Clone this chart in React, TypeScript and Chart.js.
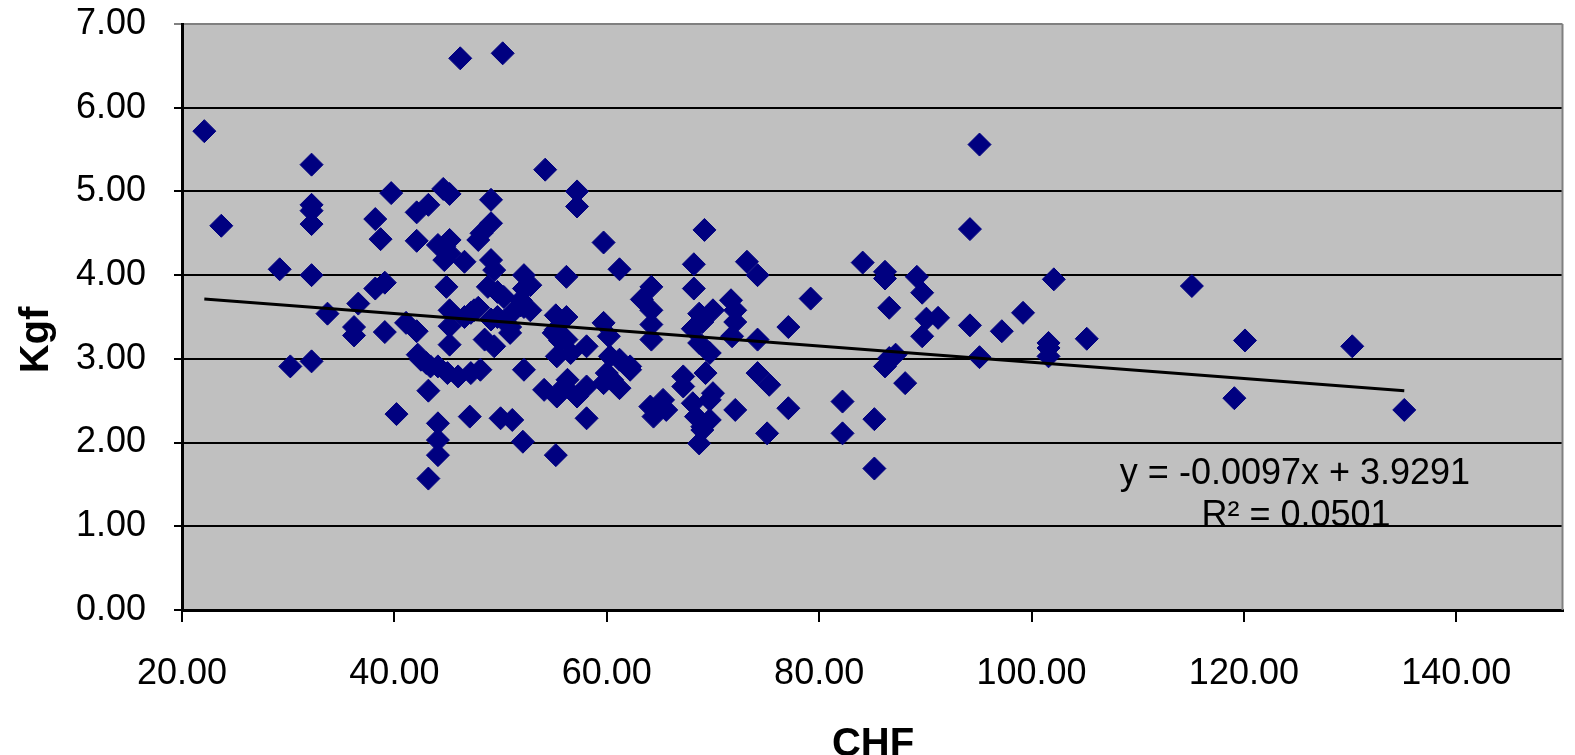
import React, { useEffect, useRef } from "react";
import { Chart, registerables } from "chart.js";

Chart.register(...registerables);

// CHF (x) and Kgf (y) values
const chf: number[] = [
  22.1, 23.7, 29.2, 30.2,
  32.2, 32.2, 32.2, 32.2, 32.2, 32.2,
  33.7, 36.2, 36.2, 36.6, 38.2, 38.2, 38.7, 39.1, 39.1, 39.7, 40.2, 41.1,
  42.1, 42.1, 42.1, 42.2, 42.5,
  43.2, 43.0, 43.2, 43.2, 43.4,
  44.1, 44.1, 44.1, 44.1, 44.1,
  44.6, 44.7, 44.7, 44.9,
  45.2, 45.2, 45.2, 45.2, 45.2, 45.2, 45.0,
  46.0, 46.2, 46.6, 46.6, 47.1, 47.2, 47.2, 47.5, 47.9, 47.9, 48.2, 48.1, 48.5, 48.8,
  49.1, 49.1, 49.1, 49.1, 49.4, 49.4, 49.7, 49.7,
  50.0, 50.2, 50.3, 50.9, 50.9, 51.0, 51.1, 51.9, 51.9,
  52.2, 52.2, 52.2, 52.2, 52.1, 52.8, 52.8,
  54.1, 54.2, 55.3,
  55.2, 55.2, 55.0, 55.3, 55.2, 55.6,
  56.2, 56.2, 56.2, 56.3, 56.6, 56.0,
  57.2, 57.2, 57.2, 58.1, 58.1, 58.1,
  59.7, 59.7, 59.7, 60.2, 60.3, 60.0, 60.5,
  61.2, 61.2, 61.2, 62.2, 62.2, 63.3,
  64.2, 64.2, 64.2, 64.2, 64.1, 64.4, 65.3, 65.6,
  67.2, 67.2, 68.2, 68.2, 68.1, 68.7, 69.0, 68.7, 68.1, 68.4, 68.7,
  69.2, 69.3, 69.0, 69.0, 69.7, 69.7, 69.7, 70.0, 70.0,
  71.7, 71.8, 72.1, 72.1, 72.1, 73.2,
  74.2, 74.2, 74.2, 75.3, 75.1, 77.1, 77.1, 79.2,
  82.2, 82.2, 84.1, 85.2, 85.2,
  86.2, 86.2, 86.6, 86.2, 86.6, 87.2, 88.1,
  89.2, 89.7, 89.7, 90.1, 91.2,
  94.2, 94.2, 95.1, 95.1, 97.2, 99.2,
  101.6, 101.6, 101.6, 102.1, 105.2,
  115.1, 119.1, 120.1, 130.2, 135.1,
];

const kgf: number[] = [
  5.72, 4.59, 4.07, 2.91,
  5.32, 4.84, 4.77, 4.61, 4.0, 2.97,
  3.54, 3.38, 3.28, 3.66, 4.67, 3.84, 4.43, 3.91, 3.32, 4.98, 2.34, 3.43,
  4.75, 4.41, 3.33, 3.05, 2.99,
  4.84, 2.95, 2.62, 1.57, 2.91,
  4.36, 2.91, 2.23, 2.03, 1.85,
  5.03, 4.34, 4.18, 3.86,
  4.97, 4.42, 4.26, 3.58, 3.39, 3.17, 2.83,
  2.79, 6.59, 4.16, 3.5, 2.31, 3.55, 2.83, 3.58, 4.42, 3.61, 4.5, 2.87, 3.23, 3.86,
  4.9, 4.62, 4.18, 3.47, 4.06, 3.15, 3.8, 3.5,
  2.29, 6.65, 3.74, 3.38, 3.31, 3.54, 2.27, 3.7, 3.64,
  4.0, 3.84, 3.62, 2.87, 2.01, 3.88, 3.58,
  2.63, 5.26, 2.55,
  3.52, 3.35, 3.31, 3.03, 1.85, 3.22,
  3.98, 3.5, 3.23, 2.75, 3.07, 2.67,
  5.0, 4.82, 2.55, 3.15, 2.67, 2.29,
  4.39, 3.43, 2.71, 3.27, 3.03, 2.83, 2.75,
  4.07, 2.99, 2.65, 2.87, 2.91, 3.71,
  3.86, 3.58, 3.41, 3.23, 2.43, 2.31, 2.51, 2.39,
  2.79, 2.67, 4.13, 3.84, 3.36, 3.54, 3.44, 3.19, 2.47, 2.31, 1.99,
  4.54, 2.83, 2.19, 2.15, 3.07, 2.51, 2.27, 3.58, 2.59,
  3.7, 3.27, 3.58, 3.44, 2.39, 4.16,
  4.0, 3.23, 2.83, 2.69, 2.11, 3.38, 2.41, 3.72,
  2.49, 2.11, 4.15, 2.28, 1.69,
  4.04, 3.96, 3.61, 2.91, 3.01, 3.05, 2.71,
  3.98, 3.79, 3.27, 3.48, 3.49,
  4.55, 3.4, 5.56, 3.02, 3.33, 3.55,
  3.19, 3.13, 3.03, 3.95, 3.24,
  3.87, 2.53, 3.22, 3.15, 2.39,
];

// Trend line end points (y = -0.0097x + 3.9291, as shown)
const trendX: number[] = [22.1, 135.1];
const trendY: number[] = [3.715, 2.619];

const yTicks: number[] = [0, 1, 2, 3, 4, 5, 6, 7];
const equationLabel = "y = -0.0097x + 3.9291";
const r2Label = "R² = 0.0501";
const xTitle = "CHF";
const yTitle = "Kgf";

const FONT = "'Liberation Sans', Arial, sans-serif";

const decorPlugin = {
  id: "decor",
  beforeDraw(chart: any) {
    const { ctx, chartArea } = chart;
    ctx.save();
    ctx.fillStyle = "#ffffff";
    ctx.fillRect(0, 0, chart.width, chart.height);
    ctx.fillStyle = "#C0C0C0";
    ctx.fillRect(chartArea.left, chartArea.top, chartArea.right - chartArea.left, chartArea.bottom - chartArea.top);
    ctx.restore();
  },
  afterDraw(chart: any) {
    const { ctx, chartArea } = chart;
    ctx.save();
    // right border of plot area
    ctx.strokeStyle = "#808080";
    ctx.lineWidth = 2;
    ctx.beginPath();
    ctx.moveTo(chartArea.right, chartArea.top);
    ctx.lineTo(chartArea.right, chartArea.bottom);
    ctx.stroke();
    // trend line label
    ctx.fillStyle = "#000";
    ctx.font = `36px ${FONT}`;
    ctx.textAlign = "center";
    ctx.textBaseline = "alphabetic";
    ctx.fillText(equationLabel, 1295, 484);
    ctx.fillText(r2Label, 1296, 526);
    // axis titles
    ctx.font = `bold 40px ${FONT}`;
    ctx.fillText(xTitle, 873, 756);
    ctx.translate(48, 340);
    ctx.rotate(-Math.PI / 2);
    ctx.fillText(yTitle, 0, 0);
    ctx.restore();
  },
};

export default function App() {
  const ref = useRef<HTMLCanvasElement | null>(null);
  useEffect(() => {
    document.body.style.margin = "0";
    if (!ref.current) return;
    const points = chf.map((x, i) => ({ x, y: kgf[i] }));
    const trend = trendX.map((x, i) => ({ x, y: trendY[i] }));
    const chart = new Chart(ref.current, {
      type: "scatter",
      data: {
        datasets: [
          {
            type: "line",
            label: "trend",
            data: trend,
            borderColor: "#000",
            borderWidth: 3,
            pointRadius: 0,
            showLine: true,
            fill: false,
            order: 0,
          } as any,
          {
            label: "Kgf",
            data: points,
            pointStyle: "rectRot",
            pointRadius: 11.5,
            pointBorderWidth: 1,
            backgroundColor: "#000080",
            borderColor: "#000080",
            order: 1,
          } as any,
        ],
      },
      options: {
        responsive: false,
        animation: false,
        layout: { padding: { top: 24, right: 1, left: 0, bottom: 0 } },
        plugins: {
          legend: { display: false },
          tooltip: { enabled: false },
        },
        scales: {
          x: {
            type: "linear",
            min: 20,
            max: 150,
            afterFit: (s: any) => {
              s.height = 145;
              s.paddingLeft = 0;
              s.paddingRight = 0;
            },
            border: { color: "#000", width: 3 },
            grid: {
              drawOnChartArea: false,
              drawTicks: true,
              tickLength: 12,
              color: "#000",
              lineWidth: 2,
            },
            ticks: {
              stepSize: 20,
              includeBounds: false,
              padding: 30,
              color: "#000",
              font: { family: FONT, size: 36 },
              callback: (v: any) => Number(v).toFixed(2),
              maxRotation: 0,
            },
          },
          y: {
            type: "linear",
            min: 0,
            max: 7,
            afterFit: (s: any) => {
              s.width = 182;
              s.paddingTop = 0;
              s.paddingBottom = 0;
            },
            afterBuildTicks: (s: any) => {
              s.ticks = yTicks.map((v) => ({ value: v }));
            },
            border: { color: "#000", width: 3 },
            grid: {
              drawTicks: true,
              tickLength: 8,
              color: (c: any) => (c.tick && c.tick.value === 7 ? "#808080" : "#000"),
              lineWidth: 2,
            },
            ticks: {
              padding: 28,
              color: "#000",
              font: { family: FONT, size: 36 },
              callback: (v: any) => Number(v).toFixed(2),
            },
          },
        },
      },
      plugins: [decorPlugin],
    });
    return () => chart.destroy();
  }, []);
  return (
    <div style={{ width: 1575, height: 755 }}>
      <canvas ref={ref} width={1575} height={755} style={{ display: "block" }} />
    </div>
  );
}
